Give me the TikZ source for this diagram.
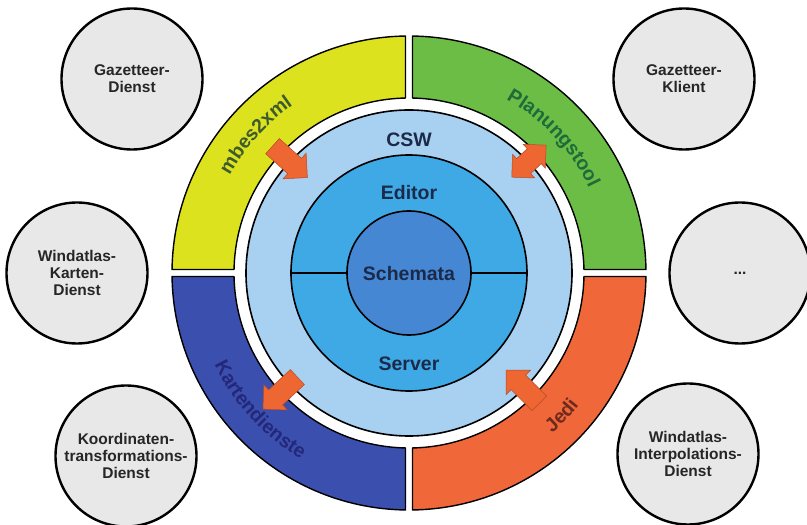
\documentclass[tikz,border=0pt]{standalone}
\usepackage{fontspec}
\setmainfont{Liberation Sans}
\usetikzlibrary{shapes.arrows,decorations.text}

% colours
\definecolor{ringyellow}{HTML}{DDE21F}
\definecolor{ringgreen}{HTML}{6CBD45}
\definecolor{ringblue}{HTML}{3B4FAE}
\definecolor{ringorange}{HTML}{F0683A}
\definecolor{cswblue}{HTML}{A8D1F1}
\definecolor{editorblue}{HTML}{3EA9E5}
\definecolor{schemablue}{HTML}{4587D3}
\definecolor{satfill}{HTML}{E8E8E8}
\definecolor{sattext}{HTML}{262626}
\definecolor{coretext}{HTML}{1C2A4A}
\definecolor{flowcol}{HTML}{EE6632}
\definecolor{lblyellow}{HTML}{3D5B2E}
\definecolor{lblgreen}{HTML}{1F6B3A}
\definecolor{lblblue}{HTML}{23287A}
\definecolor{lblorange}{HTML}{6E2A1E}

\newcommand\ringfont{\fontsize{19.5}{22}\selectfont\bfseries}
\newcommand\satfont{\fontsize{15.5}{17}\selectfont\bfseries}

% one quarter of the outer ring; #1 base angle, #2 fill colour
\newcommand\ringsector[2]{%
  \draw[sector, fill=#2]
    (#1+0.85:237pt) arc[start angle=#1+0.85, end angle=#1+89.15, radius=237pt]
    -- (#1+88.85:175pt) arc[start angle=#1+88.85, end angle=#1+1.15, radius=175pt]
    -- cycle;}

\begin{document}
\begin{tikzpicture}[x=1pt,y=1pt,
  satellite/.style={circle, draw=black, line width=2.4pt, fill=satfill,
    minimum size=141pt, inner sep=0pt, align=center, font=\satfont, text=sattext},
  sector/.style={draw=black, line width=1.4pt, line join=round},
  disc/.style={circle, draw=black, line width=1.6pt, inner sep=0pt},
  corelabel/.style={font=\ringfont, text=coretext},
  flow/.style={single arrow, fill=flowcol, draw=flowcol!75!black, line width=0.5pt,
    minimum height=47pt, inner sep=10pt, single arrow head extend=7pt},
  flowboth/.style={double arrow, fill=flowcol, draw=flowcol!75!black, line width=0.5pt,
    minimum height=47pt, inner sep=10pt, double arrow head extend=6pt},
]
\useasboundingbox (0,0) rectangle (807,525);

% satellite services
\node[satellite] (gd) at (132,446) {Gazetteer-\\Dienst};
\node[satellite] (wk) at (77,252) {Windatlas-\\Karten-\\Dienst};
\node[satellite] (kt) at (126,69) {Koordinaten-\\transformations-\\Dienst};
\node[satellite] (gk) at (684,446) {Gazetteer-\\Klient};
\node[satellite] (more) at (740,252) {...};
\node[satellite] (wi) at (688,71) {Windatlas-\\Interpolations-\\Dienst};

\begin{scope}[shift={(409,252)}]
  % outer ring of tools
  \ringsector{90}{ringyellow}
  \ringsector{0}{ringgreen}
  \ringsector{180}{ringblue}
  \ringsector{270}{ringorange}

  % core discs
  \node[disc, fill=cswblue, minimum size=326pt] (csw) at (0,0) {};
  \node[disc, fill=editorblue, minimum size=236pt] (editor) at (0,0) {};
  \node[disc, fill=schemablue, minimum size=124pt] (schemata) at (0,0) {};
  \draw[line width=1.6pt] (editor.west) -- (schemata.west);
  \draw[line width=1.6pt] (schemata.east) -- (editor.east);

  \node[corelabel] (lcsw) at (0,133) {CSW};
  \node[corelabel] (leditor) at (0,80) {Editor};
  \node[corelabel] (lschemata) at (0,-1) {Schemata};
  \node[corelabel] (lserver) at (0,-91) {Server};

  % ring labels
  \path[decorate, decoration={text along path, text align=center,
      text={|\ringfont\color{lblyellow}|mbes2xml}}]
    (160:204pt) arc[start angle=160, end angle=116, radius=204pt];
  \path[decorate, decoration={text along path, text align=center,
      text={|\ringfont\color{lblgreen}|Planungstool}}]
    (75:199pt) arc[start angle=75, end angle=11, radius=199pt];
  \path[decorate, decoration={text along path, text align=center,
      text={|\ringfont\color{lblblue}|Kartendienste}}]
    (190:215pt) arc[start angle=190, end angle=255, radius=215pt];
  \path[decorate, decoration={text along path, text align=center,
      text={|\ringfont\color{lblorange}|Jedi}}]
    (-73:215pt) arc[start angle=-73, end angle=-13, radius=215pt];

  % data flows between the tools and the core
  \node[flow, rotate=-42] (fa) at (137:168pt) {};
  \node[flowboth, rotate=43] (fb) at (43:164pt) {};
  \node[flow, rotate=223] (fc) at (223:171pt) {};
  \node[flow, rotate=135] (fd) at (-45:166pt) {};
\end{scope}
\end{tikzpicture}
\end{document}
